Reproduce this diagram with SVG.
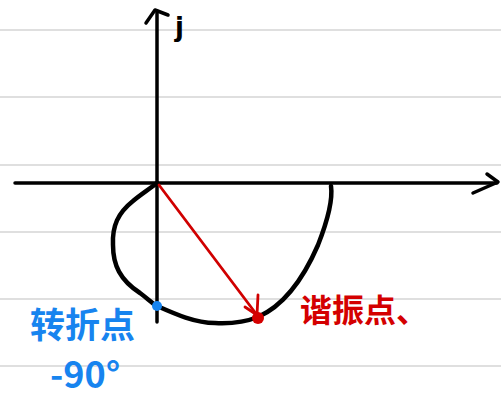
<svg xmlns="http://www.w3.org/2000/svg" width="501" height="398" viewBox="0 0 501 398">
<style>
.grid{stroke:#d4d4d4;stroke-width:1.5}
.axis{stroke:#000;stroke-width:3.5;fill:none;stroke-linecap:round;stroke-linejoin:round}
.curve{stroke:#000;stroke-width:4.5;fill:none;stroke-linecap:round;stroke-linejoin:round}
.vec{stroke:#d00000;stroke-width:2.8;fill:none;stroke-linecap:round;stroke-linejoin:round}
.blue{fill:#1784ef;font-family:"Noto Sans CJK SC","Noto Sans",sans-serif;font-weight:bold}
.red{fill:#d40000;font-family:"Noto Sans CJK SC","Noto Sans",sans-serif;font-weight:bold}
</style>
<rect width="501" height="398" fill="#fff"/>
<g id="grid">
<line class="grid" x1="0" y1="30" x2="501" y2="30"/>
<line class="grid" x1="0" y1="97" x2="501" y2="97"/>
<line class="grid" x1="0" y1="165" x2="501" y2="165"/>
<line class="grid" x1="0" y1="232" x2="501" y2="232"/>
<line class="grid" x1="0" y1="299" x2="501" y2="299"/>
<line class="grid" x1="0" y1="366" x2="501" y2="366"/>
</g>
<g id="axes">
<line class="axis" x1="15" y1="183" x2="497" y2="183"/>
<polyline class="axis" points="487,174 498,182 473,193"/>
<line class="axis" x1="157" y1="11" x2="157" y2="322"/>
<polyline class="axis" points="146,23 155,10 168,15"/>
<text x="175" y="36" font-family="DejaVu Sans, sans-serif" font-size="26" font-weight="bold" fill="#000">j</text>
</g>
<g id="curve">
<path class="curve" d="M157,183 C148,190 140,195 133,201 C118,213 112,226 113,245 C113,265 120,280 140,293 C148,299 152,303 157,306 C175,314 195,323 215,323 C235,324 248,321 258,317 C285,305 305,275 318,245 C327,222 333,200 331,186"/>
</g>
<g id="connectors">
<line class="vec" x1="159" y1="185" x2="257" y2="315"/>
<polyline class="vec" points="245,307 257,315 258,295"/>
</g>
<g id="node-resonance">
<circle cx="258" cy="318" r="6" fill="#d40000"/>
<text class="red" x="300" y="322" font-size="32">谐振点、</text>
</g>
<g id="node-turn">
<circle cx="157" cy="306" r="5" fill="#1784ef"/>
<text class="blue" x="30" y="338" font-size="35">转折点</text>
<text class="blue" x="50" y="388" font-size="36">-90°</text>
</g>
</svg>
